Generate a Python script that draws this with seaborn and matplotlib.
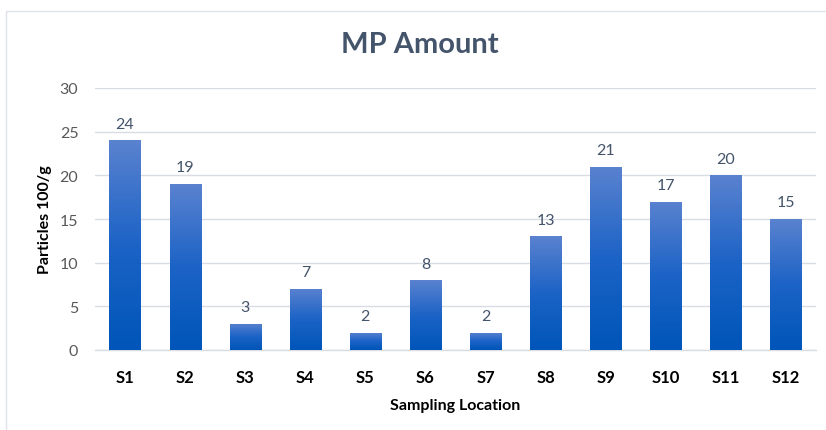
import numpy as np
import pandas as pd
import matplotlib
matplotlib.use("Agg")
import matplotlib.pyplot as plt
import seaborn as sns
from matplotlib.patches import Rectangle
from matplotlib.colors import LinearSegmentedColormap

locations = ["S1", "S2", "S3", "S4", "S5", "S6", "S7", "S8", "S9", "S10", "S11", "S12"]
particles = [24, 19, 3, 7, 2, 8, 2, 13, 21, 17, 20, 15]
y_ticks = [0, 5, 10, 15, 20, 25, 30]

df = pd.DataFrame({"Location": locations, "Particles": particles})

sns.set_theme(style="white")
plt.rcParams["font.family"] = ["Lato", "DejaVu Sans"]

fig = plt.figure(figsize=(8.26, 4.31), dpi=100)
ax = fig.add_axes([95 / 826, 1 - 351 / 431, (816 - 95) / 826, (351 - 89) / 431])

sns.barplot(data=df, x="Location", y="Particles", color="#2a65c4", width=0.52,
            ax=ax, zorder=3)

# vertical gradient fill for each bar
grad = LinearSegmentedColormap.from_list("bar_grad", ["#0055b8", "#1c63c6", "#5a82cf"])
ax.set_ylim(0, 30)
ax.set_xlim(-0.5, len(locations) - 0.5)
for patch in ax.patches:
    x0, y0 = patch.get_x(), patch.get_y()
    w, h = patch.get_width(), patch.get_height()
    img = np.linspace(0, 1, 256).reshape(-1, 1)
    im = ax.imshow(img, cmap=grad, origin="lower", aspect="auto",
                   extent=[x0, x0 + w, y0, y0 + h], zorder=4)
    im.set_clip_path(patch)
    patch.set_facecolor("none")
    patch.set_edgecolor("none")
ax.set_xlim(-0.5, len(locations) - 0.5)
ax.set_ylim(0, 30)

for i, v in enumerate(particles):
    ax.text(i, v + 1.1, f"{v}", ha="center", va="bottom", fontsize=11.5,
            color="#44546a", zorder=5)

ax.set_yticks(y_ticks)
ax.set_yticklabels([str(t) for t in y_ticks], fontsize=11.5, color="#595959")
ax.set_xticklabels(locations, fontsize=12, fontweight="bold", color="#000000")
ax.tick_params(axis="x", length=0, pad=14)
ax.tick_params(axis="y", length=0, pad=12)
ax.grid(axis="y", color="#d9dde3", linewidth=1.0, zorder=0)
ax.set_axisbelow(True)
for side in ["top", "right", "left"]:
    ax.spines[side].set_visible(False)
ax.spines["bottom"].set_color("#d9dde3")
ax.spines["bottom"].set_linewidth(1.0)

ax.set_xlabel("Sampling Location", fontsize=11.5, fontweight="bold", color="#000000", labelpad=9)
ax.set_ylabel("Particles 100/g", fontsize=11.5, fontweight="bold", color="#000000")
ax.yaxis.set_label_coords(-0.06, 0.5)

fig.text(420 / 826, 1 - 45 / 431, "MP Amount", ha="center", va="center",
         fontsize=21, fontweight="bold", color="#44546a")

# chart frame
fig.patches.append(Rectangle((6 / 826, -0.05), 1.0, 1 - 12 / 431 + 0.05,
                             transform=fig.transFigure, fill=False,
                             edgecolor="#dfe2e6", linewidth=1.0))

fig.savefig("out.png", dpi=100, facecolor="white")
